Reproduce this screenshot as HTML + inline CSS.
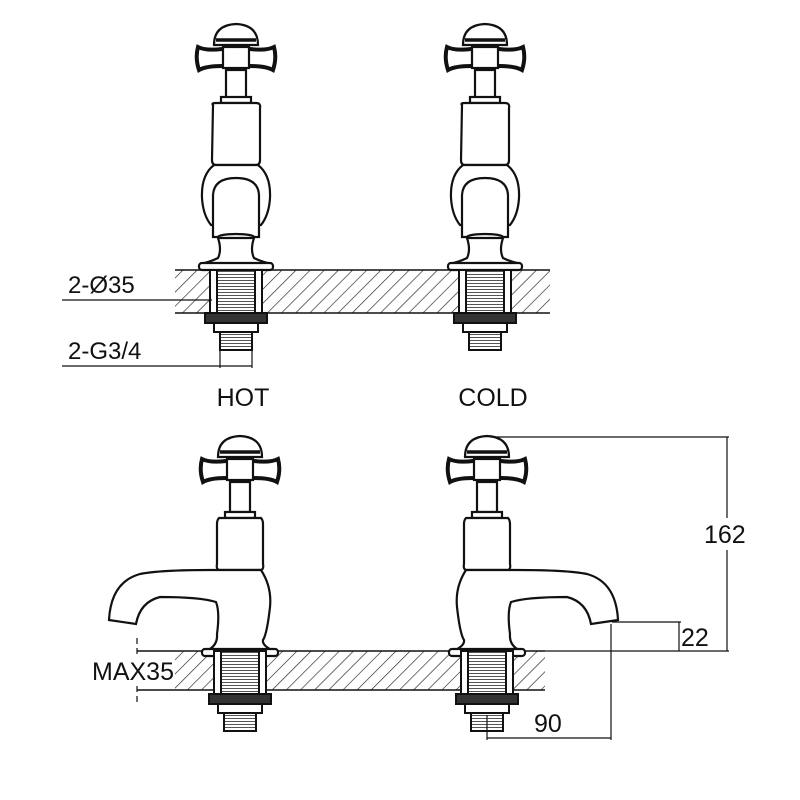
<!DOCTYPE html>
<html><head><style>
html,body{margin:0;padding:0;background:#fff;width:800px;height:800px;overflow:hidden}
text{font-family:"Liberation Sans",sans-serif;fill:#111}
</style></head><body>
<svg width="800" height="800" viewBox="0 0 800 800" xmlns="http://www.w3.org/2000/svg">
<defs>
<pattern id="h" patternUnits="userSpaceOnUse" width="10" height="10" patternTransform="rotate(45)">
<line x1="0" y1="0" x2="0" y2="10" stroke="#222" stroke-width="1.3"/>
</pattern>
<pattern id="t" patternUnits="userSpaceOnUse" width="4" height="3"><rect width="4" height="3" fill="#fff"/><line x1="0" y1="1.5" x2="4" y2="1.5" stroke="#555" stroke-width="1"/></pattern>
<g id="head" fill="#fff" stroke="#111" stroke-width="2.2">
<path d="M-22,45 Q-22,25 0,24 Q22,25 22,45 Z"/>
<line x1="-20" y1="40" x2="20" y2="40" stroke-width="3.5"/>
<path d="M-38,47 Q-41,58 -37,70 Q-30,66 -14,66 L14,66 Q30,66 37,70 Q41,58 38,47 Q30,51 14,49 L-14,49 Q-30,51 -38,47 Z" stroke-width="4"/>
<rect x="-13" y="47" width="26" height="21"/>
</g>
<g id="shank" stroke="#111" stroke-width="2" fill="#fff">
<rect x="-26" y="0" width="52" height="43"/>
<rect x="-19" y="0" width="38" height="43" fill="url(#t)"/>
<rect x="-31" y="43" width="62" height="10" fill="#333"/>
<rect x="-22" y="53" width="44" height="9"/>
<rect x="-16" y="62" width="32" height="18" fill="url(#t)"/>
</g>
<g id="toptap" fill="#fff" stroke="#111" stroke-width="2.2">
<use href="#head"/>
<rect x="-10" y="70" width="20" height="28"/>
<rect x="-15" y="97" width="30" height="6"/>
<path d="M-23,105 Q-25,103 -20,103 L20,103 Q25,103 24,108 L24,160 Q24,165 20,165 L-20,165 Q-24,165 -24,160 Z"/>
<path d="M-22,165 Q-35,175 -34,198 Q-33,215 -25,225 L25,225 Q33,215 34,198 Q35,175 22,165 Z"/>
<path d="M-23,237 L-23,195 Q-22,178 0,178 Q22,178 23,195 L23,237 Z"/>
<ellipse cx="0" cy="237" rx="18" ry="3"/>
<path d="M-18,238 Q-14,250 -18,258 Q-26,262 -36,264 L36,264 Q26,262 18,258 Q14,250 18,238 Z"/>
<rect x="-37" y="263" width="74" height="7" rx="3"/>
</g>
<g id="sidetap" fill="#fff" stroke="#111" stroke-width="2.2">
<use href="#head"/>
<rect x="-10" y="70" width="20" height="30"/>
<rect x="-15" y="100" width="30" height="6"/>
<path d="M-21,106 L21,106 Q23,108 23,112 L23,152 Q24,157 21,158 L-21,158 Q-24,157 -23,152 L-23,112 Q-23,108 -21,106 Z"/>
<path d="M-21,158 Q-32,175 -30,195 Q-27,222 -23,228 Q-22,234 -34,239 L34,239 Q22,234 23,222 Q20,200 24,190 Q40,185 80,185 Q100,190 104,212 L131,208 Q129,170 100,162 Q80,158 30,158 L21,158 Z"/>
<rect x="-38" y="237" width="76" height="7" rx="3"/>
</g>
</defs>

<rect x="175" y="270" width="375" height="43" fill="url(#h)"/>
<line x1="175" y1="270" x2="550" y2="270" stroke="#111" stroke-width="1.5"/>
<line x1="175" y1="313" x2="550" y2="313" stroke="#111" stroke-width="1.5"/>
<rect x="175" y="651" width="370" height="39" fill="url(#h)"/>
<line x1="137" y1="651" x2="545" y2="651" stroke="#111" stroke-width="1.5"/>
<line x1="137" y1="690" x2="545" y2="690" stroke="#111" stroke-width="1.5"/>

<g transform="translate(236,0)"><use href="#toptap"/><g transform="translate(0,270)"><use href="#shank"/></g></g>
<g transform="translate(485,0)"><use href="#toptap"/><g transform="translate(0,270)"><use href="#shank"/></g></g>

<g transform="translate(240,412) scale(-1,1)"><use href="#sidetap"/></g>
<g transform="translate(240,651)"><use href="#shank"/></g>
<g transform="translate(487,412)"><use href="#sidetap"/></g>
<g transform="translate(487,651)"><use href="#shank"/></g>

<g stroke="#111" stroke-width="1.2" fill="none">
<line x1="62" y1="300" x2="212" y2="300"/>
<line x1="62" y1="366" x2="252" y2="366"/>
<line x1="220" y1="345" x2="220" y2="368"/>
<line x1="252" y1="345" x2="252" y2="368"/>
<line x1="137" y1="638" x2="137" y2="656" stroke-dasharray="6,4"/>
<line x1="137" y1="686" x2="137" y2="702" stroke-dasharray="6,4"/>
<line x1="490" y1="437" x2="729" y2="437"/>
<line x1="727" y1="437" x2="727" y2="518"/>
<line x1="727" y1="550" x2="727" y2="651"/>
<line x1="545" y1="651" x2="729" y2="651"/>
<line x1="612" y1="622" x2="681" y2="622"/>
<line x1="679" y1="622" x2="679" y2="651"/>
<line x1="611" y1="624" x2="611" y2="740"/>
<line x1="487" y1="715" x2="487" y2="740"/>
<line x1="487" y1="738" x2="611" y2="738"/>
</g>
<text x="68" y="293" font-size="24">2-Ø35</text>
<text x="68" y="359" font-size="24">2-G3/4</text>
<text x="243" y="406" font-size="25" text-anchor="middle">HOT</text>
<text x="493" y="406" font-size="25" text-anchor="middle">COLD</text>
<text x="92" y="680" font-size="25">MAX35</text>
<text x="704" y="543" font-size="25">162</text>
<text x="681" y="646" font-size="25">22</text>
<text x="534" y="732" font-size="25">90</text>
</svg>
</body></html>
